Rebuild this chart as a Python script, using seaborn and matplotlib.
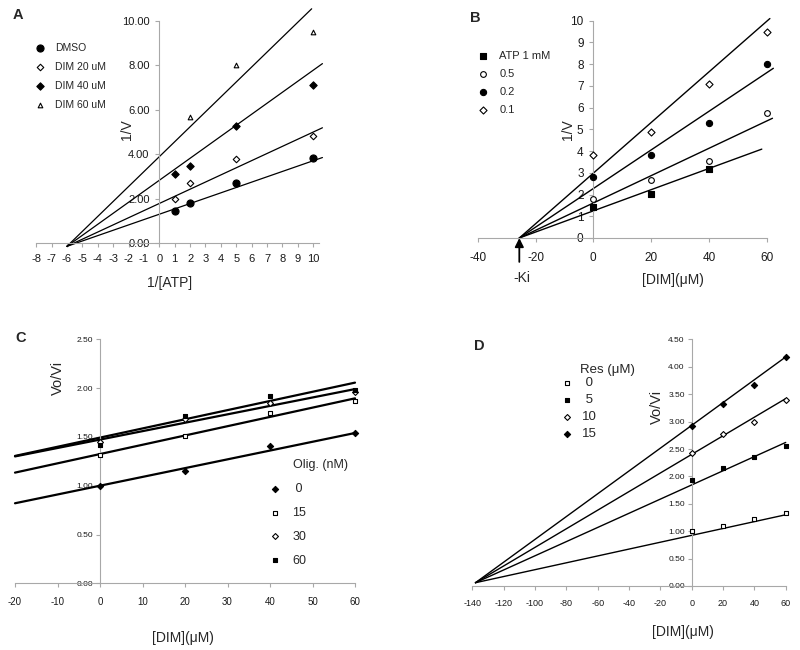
import numpy as np
import pandas as pd
import seaborn as sns
import matplotlib.pyplot as plt
from matplotlib.ticker import FormatStrFormatter

sns.set_theme(style="white")
plt.rcParams['font.family'] = ['Liberation Sans', 'DejaVu Sans']
plt.rcParams['axes.unicode_minus'] = False

W, H = 800, 650
GRAY = '#a8a8a8'

# ---- panel A: 1/V vs 1/[ATP]
a_x = [1, 2, 5, 10]
a_dmso = [1.42, 1.80, 2.72, 3.82]
a_dim20 = [1.99, 2.69, 3.77, 4.84]
a_dim40 = [3.11, 3.49, 5.27, 7.11]
a_dim60 = [np.nan, 5.69, 8.00, 9.50]
a_labels = ['DMSO', 'DIM 20 uM', 'DIM 40 uM', 'DIM 60 uM']
a_fit_start = (-6.0, -0.15)
a_fit_end_x = [10.6, 10.6, 10.6, 9.9]
a_fit_end_y = [3.85, 5.19, 8.08, 10.55]

# ---- panel B: 1/V vs [DIM]
b_x = [0, 20, 40, 60]
b_atp1 = [1.42, 2.04, 3.17, np.nan]
b_atp05 = [1.81, 2.68, 3.55, 5.74]
b_atp02 = [2.79, 3.81, 5.28, 8.01]
b_atp01 = [3.84, 4.87, 7.07, 9.49]
b_labels = ['ATP 1 mM', '0.5', '0.2', '0.1']
b_fit_start = (-25.6, 0.0)
b_fit_end_x = [58.3, 62.0, 62.3, 61.1]
b_fit_end_y = [4.09, 5.51, 7.81, 10.1]

# ---- panel C: Vo/Vi vs [DIM], oligomycin
c_x = [0, 20, 40, 60]
c_olig0 = [1.00, 1.15, 1.41, 1.54]
c_olig15 = [1.31, 1.51, 1.75, 1.87]
c_olig30 = [1.45, 1.68, 1.85, 1.96]
c_olig60 = [1.42, 1.71, 1.92, 1.98]
c_labels = [' 0', '15', '30', '60']
c_fit_x = (-20, 60)
c_fit_start_y = [0.82, 1.134, 1.30, 1.305]
c_fit_end_y = [1.54, 1.895, 1.99, 2.056]

# ---- panel D: Vo/Vi vs [DIM], resveratrol
d_x = [0, 20, 40, 60]
d_res0 = [1.00, 1.09, 1.22, 1.34]
d_res5 = [1.93, 2.15, 2.35, 2.56]
d_res10 = [2.42, 2.77, 3.00, 3.39]
d_res15 = [2.92, 3.33, 3.67, 4.17]
d_labels = [' 0', ' 5', '10', '15']
d_fit_start = (-138, 0.06)
d_fit_end_x = 60
d_fit_end_y = [1.30, 2.62, 3.42, 4.18]

fig = plt.figure(figsize=(8, 6.5), dpi=100)


def fx(x):
    return x / W


def fy(y):
    return 1 - y / H


def make_ax(xlim, ylim, ox, oy, sx, sy, xb, yb):
    # ox, oy: pixel position of data (0, 0); sx, sy: pixels per data unit
    left = ox + xlim[0] * sx
    right = ox + xlim[1] * sx
    top = oy - ylim[1] * sy
    bottom = oy - ylim[0] * sy
    ax = fig.add_axes([fx(left), fy(bottom), (right - left) / W, (bottom - top) / H])
    ax.set_xlim(xlim)
    ax.set_ylim(ylim)
    ax.patch.set_alpha(0)
    ax.spines['top'].set_visible(False)
    ax.spines['right'].set_visible(False)
    ax.spines['left'].set_position(('data', 0))
    ax.spines['bottom'].set_position(('data', 0))
    ax.spines['bottom'].set_bounds(*xb)
    ax.spines['left'].set_bounds(*yb)
    for s in ['left', 'bottom']:
        ax.spines[s].set_color(GRAY)
        ax.spines[s].set_linewidth(0.8)
    ax.tick_params(bottom=True, left=True, direction='out', length=3, width=0.8,
                   color=GRAY, labelcolor='#1a1a1a')
    return ax


def points(ax, x, y, marker, filled, size, label):
    df = pd.DataFrame({'x': x, 'y': y}).dropna()
    sns.scatterplot(data=df, x='x', y='y', marker=marker, s=size,
                    color='black' if filled else 'white', edgecolor='black',
                    linewidth=0.8, ax=ax, legend=False, zorder=3, clip_on=False)
    h = ax.collections[-1]
    h.set_label(label)
    return h


def fit_line(ax, x0, y0, x1, y1, lw):
    sns.lineplot(x=[x0, x1], y=[y0, y1], color='black', linewidth=lw, ax=ax,
                 legend=False, sort=False, clip_on=False)


def legend(ax, handles, left, top, fs, spacing, textpad):
    ax.legend(handles=handles, loc='upper left',
              bbox_to_anchor=(fx(left), fy(top)), bbox_transform=fig.transFigure,
              frameon=False, borderpad=0, borderaxespad=0, handlelength=1.0,
              handletextpad=textpad, labelspacing=spacing, scatterpoints=1,
              prop={'size': fs})


def ftext(x, y, s, **kw):
    fig.text(fx(x), fy(y), s, ha=kw.pop('ha', 'center'), va=kw.pop('va', 'center'), **kw)


# ================= A
axA = make_ax((-8.2, 10.7), (-0.5, 10.8), 159.3, 243, 15.39, 22.2, (-8, 10.4), (0, 10))
axA.set_yticks(np.arange(0, 10.01, 2))
axA.yaxis.set_major_formatter(FormatStrFormatter('%.2f'))
axA.set_xticks(np.arange(-8, 11, 1))
axA.tick_params(axis='both', labelsize=8, pad=4)
axA.tick_params(axis='x', pad=5)
for i in range(4):
    fit_line(axA, a_fit_start[0], a_fit_start[1], a_fit_end_x[i], a_fit_end_y[i], 0.9)
hA = [points(axA, a_x, a_dmso, 'o', True, 26, a_labels[0]),
      points(axA, a_x, a_dim20, 'D', False, 11, a_labels[1]),
      points(axA, a_x, a_dim40, 'D', True, 14, a_labels[2]),
      points(axA, a_x, a_dim60, '^', False, 11, a_labels[3])]
legend(axA, hA, 34.8, 43, 7.5, 0.85, 0.95)
axA.set_xlabel('')
axA.set_ylabel('')
ftext(170, 283, '1/[ATP]', fontsize=10)
ftext(127, 130, '1/V', fontsize=10, rotation=90)
ftext(18, 15, 'A', fontsize=10.5, fontweight='bold')

# ================= B
axB = make_ax((-42, 63), (-0.6, 10.5), 593.3, 238, 2.89, 21.73, (-40, 60), (0, 10))
axB.set_xticks(np.arange(-40, 61, 20))
axB.set_yticks(np.arange(0, 11, 1))
axB.tick_params(axis='both', labelsize=8.5, pad=4)
axB.tick_params(axis='x', pad=7)
for i in range(4):
    fit_line(axB, b_fit_start[0], b_fit_start[1], b_fit_end_x[i], b_fit_end_y[i], 1.0)
hB = [points(axB, b_x, b_atp1, 's', True, 17, b_labels[0]),
      points(axB, b_x, b_atp05, 'o', False, 17, b_labels[1]),
      points(axB, b_x, b_atp02, 'o', True, 20, b_labels[2]),
      points(axB, b_x, b_atp01, 'D', False, 13, b_labels[3])]
legend(axB, hB, 477.1, 51, 8, 0.72, 1.0)
axB.annotate('', xy=(b_fit_start[0], 0), xytext=(b_fit_start[0], -1.1),
             arrowprops=dict(arrowstyle='-|>', color='black', lw=1.3, mutation_scale=13,
                             shrinkA=0, shrinkB=0),
             annotation_clip=False)
axB.set_xlabel('')
axB.set_ylabel('')
ftext(522, 278, '-Ki', fontsize=10)
ftext(673, 280, '[DIM](\u03bcM)', fontsize=10)
ftext(568, 130, '1/V', fontsize=10, rotation=90)
ftext(475, 18, 'B', fontsize=10.5, fontweight='bold')

# ================= C
axC = make_ax((-21, 61), (-0.1, 2.6), 100, 583.3, 4.25, 97.6, (-20, 60), (0, 2.5))
axC.set_xticks(np.arange(-20, 61, 10))
axC.set_yticks(np.arange(0, 2.51, 0.5))
axC.yaxis.set_major_formatter(FormatStrFormatter('%.2f'))
axC.tick_params(axis='x', labelsize=7, pad=7)
axC.tick_params(axis='y', labelsize=6, pad=2)
for i in range(4):
    fit_line(axC, c_fit_x[0], c_fit_start_y[i], c_fit_x[1], c_fit_end_y[i], 1.6)
hC = [points(axC, c_x, c_olig0, 'D', True, 10, c_labels[0]),
      points(axC, c_x, c_olig15, 's', False, 10, c_labels[1]),
      points(axC, c_x, c_olig30, 'D', False, 9, c_labels[2]),
      points(axC, c_x, c_olig60, 's', True, 12, c_labels[3])]
legend(axC, hC, 268.7, 483, 9, 0.95, 0.9)
axC.set_xlabel('')
axC.set_ylabel('')
ftext(292.7, 465, 'Olig. (nM)', fontsize=9, ha='left')
ftext(183, 638, '[DIM](\u03bcM)', fontsize=10)
ftext(58, 378, 'Vo/Vi', fontsize=10.5, rotation=90)
ftext(21, 338, 'C', fontsize=10.5, fontweight='bold')

# ================= D
axD = make_ax((-143, 63), (-0.1, 4.6), 691.7, 586, 1.567, 54.8, (-140, 60), (0, 4.5))
axD.set_xticks(np.arange(-140, 61, 20))
axD.set_yticks(np.arange(0, 4.51, 0.5))
axD.yaxis.set_major_formatter(FormatStrFormatter('%.2f'))
axD.tick_params(axis='x', labelsize=6.5, pad=6)
axD.tick_params(axis='y', labelsize=6, pad=2)
for i in range(4):
    fit_line(axD, d_fit_start[0], d_fit_start[1], d_fit_end_x, d_fit_end_y[i], 1.0)
hD = [points(axD, d_x, d_res0, 's', False, 10, d_labels[0]),
      points(axD, d_x, d_res5, 's', True, 12, d_labels[1]),
      points(axD, d_x, d_res10, 'D', False, 9, d_labels[2]),
      points(axD, d_x, d_res15, 'D', True, 10, d_labels[3])]
legend(axD, hD, 560.7, 377, 9.5, 0.36, 0.6)
axD.set_xlabel('')
axD.set_ylabel('')
ftext(580, 370, 'Res (\u03bcM)', fontsize=9.5, ha='left')
ftext(683, 632, '[DIM](\u03bcM)', fontsize=10)
ftext(657, 407, 'Vo/Vi', fontsize=10.5, rotation=90)
ftext(479, 346, 'D', fontsize=10.5, fontweight='bold')

fig.savefig('out.png', dpi=100)
